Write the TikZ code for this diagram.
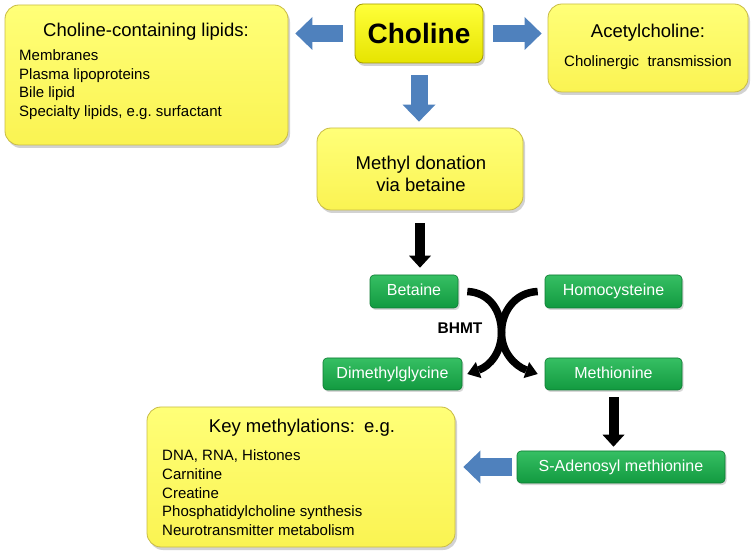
\documentclass[tikz,border=0pt]{standalone}
\usepackage{fontspec}
\setmainfont{Liberation Sans}
\usetikzlibrary{arrows.meta,shadows,calc}

\definecolor{ytop}{HTML}{FFFF78}
\definecolor{ybot}{HTML}{FAF352}
\definecolor{yedge}{HTML}{C9BC45}
\definecolor{ctop}{HTML}{FFFF3A}
\definecolor{cbot}{HTML}{E6E400}
\definecolor{cedge}{HTML}{A39A00}
\definecolor{gtop}{HTML}{36BF63}
\definecolor{gbot}{HTML}{129A40}
\definecolor{gedge}{HTML}{0D7A32}
\definecolor{arrblue}{HTML}{4F81BD}

\begin{document}
\begin{tikzpicture}[x=1pt,y=-1pt,
    ybox/.style={rounded corners=14pt,top color=ytop,bottom color=ybot,draw=yedge,line width=0.8pt,
      drop shadow={shadow xshift=2pt,shadow yshift=-3pt,opacity=0.35}},
    cbox/.style={rounded corners=8pt,top color=ctop,bottom color=cbot,draw=cedge,line width=0.8pt,
      drop shadow={shadow xshift=2pt,shadow yshift=-3pt,opacity=0.35},
      font=\fontsize{28}{32}\bfseries\selectfont},
    gbox/.style={rounded corners=4pt,top color=gtop,bottom color=gbot,draw=gedge,line width=0.6pt,
      text=white,minimum height=33pt,text height=11.5pt,text depth=3pt,
      font=\fontsize{16}{19}\selectfont,
      drop shadow={shadow xshift=1.5pt,shadow yshift=-2pt,opacity=0.3}},
    ttl/.style={font=\fontsize{18.5}{22}\selectfont},
    lst/.style={font=\fontsize{15}{18.7}\selectfont,align=left,inner sep=0pt},
    bluearr/.style={draw=arrblue,line width=17pt,-{Triangle[width=33pt,length=17pt,line width=0pt]}},
    blackarr/.style={draw=black,line width=10pt,-{Triangle[width=22pt,length=12pt,line width=0pt]}},
    curvarr/.style={draw=black,line width=7.5pt,-{Triangle[width=17pt,length=12pt,line width=0pt]}}]
  \useasboundingbox[fill=white] (0,0) rectangle (753,553);

  % top row
  \node[ybox,minimum width=283pt,minimum height=140pt] (lipids) at (146.5,75) {};
  \node[ttl] (lipidsttl) at (146,32) {Choline-containing lipids:};
  \node[lst,anchor=north west] (lipidslst) at (19,49.5)
    {Membranes\\Plasma lipoproteins\\Bile lipid\\Specialty\ lipids,\ e.g.\ surfactant};
  \node[cbox,minimum width=128pt,minimum height=59pt] (choline) at (419,33.5) {Choline};
  \node[ybox,minimum width=200pt,minimum height=88pt] (acetyl) at (648,48) {};
  \node[ttl] (acetylttl) at (648,33) {Acetylcholine:};
  \node[font=\fontsize{15}{18}\selectfont] (acetylsub) at (648,63) {Cholinergic\ \ transmission};

  \node[ybox,minimum width=206pt,minimum height=82pt] (methyl) at (420,169) {};
  \node[ttl,align=center] (methylttl) at (421,173.5) {Methyl donation\\via betaine};

  % betaine cycle
  \node[gbox,minimum width=88pt] (betaine) at (414,291.5) {Betaine};
  \node[gbox,minimum width=137pt] (homocys) at (613.5,291.5) {Homocysteine};
  \node[gbox,minimum width=139pt,minimum height=32pt] (dmg) at (392.5,374) {Dimethylglycine};
  \node[gbox,minimum width=137pt,minimum height=32pt] (methionine) at (613.5,374) {Methionine};
  \node[font=\fontsize{15.5}{18}\bfseries\selectfont] (bhmt) at (460,328) {BHMT};
  \node[gbox,minimum width=208pt,minimum height=32pt] (sam) at (621,467) {S-Adenosyl\ methionine};

  \node[ybox,minimum width=308pt,minimum height=140pt] (keymeth) at (301,477) {};
  \node[ttl] (keyttl) at (302,428) {Key methylations:\enspace e.g.};
  \node[lst,anchor=north west] (keylst) at (162,449.8)
    {DNA, RNA, Histones\\Carnitine\\Creatine\\Phosphatidylcholine\ synthesis\\Neurotransmitter\ metabolism};

  % arrows
  \draw[bluearr] ([xshift=-12pt]choline.west) -- ([xshift=7pt]choline.west -| lipids.east);
  \draw[bluearr] ([xshift=10pt]choline.east) -- ([xshift=-6pt]choline.east -| acetyl.west);
  \draw[bluearr] ([yshift=-12pt]choline.south) -- ([yshift=6pt]choline.south |- methyl.north);
  \draw[blackarr] ([yshift=-13pt]methyl.south) -- ([yshift=7pt]methyl.south |- betaine.north);
  \draw[blackarr] ([yshift=-7pt]methionine.south) -- ([yshift=4pt]methionine.south |- sam.north);
  \draw[bluearr] ([xshift=-5pt]sam.west) -- ([xshift=8pt]sam.west -| keymeth.east);

  \coordinate (cross) at ($(betaine.east)!0.5!(methionine.west)$);
  \draw[curvarr] ([xshift=9pt]betaine.east) .. controls +(23,1) and +(0,-21) .. (cross)
    .. controls +(0,19) and +(-23,-8) .. ([xshift=-7pt]methionine.west);
  \draw[curvarr] ([xshift=-7pt]homocys.west) .. controls +(-23,1) and +(0,-21) .. (cross)
    .. controls +(0,19) and +(23,-8) .. ([xshift=5pt]dmg.east);
\end{tikzpicture}
\end{document}
